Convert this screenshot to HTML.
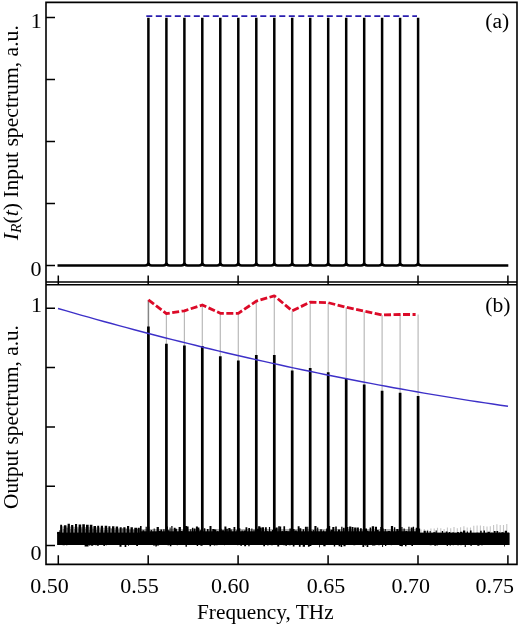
<!DOCTYPE html><html><head><meta charset="utf-8"><style>html,body{margin:0;padding:0;background:#fff}svg{display:block;will-change:transform}</style></head><body>
<svg width="520" height="625" viewBox="0 0 520 625">
<rect width="520" height="625" fill="#fff"/>
<path d="M57.5 265.5 L145.2 265.5 Q148.4 265.5 148.4 262.5 L148.4 17.8 L148.4 262.5 Q148.4 265.5 151.6 265.5 L163.2 265.5 Q166.4 265.5 166.4 262.5 L166.4 17.8 L166.4 262.5 Q166.4 265.5 169.6 265.5 L181.2 265.5 Q184.4 265.5 184.4 262.5 L184.4 17.8 L184.4 262.5 Q184.4 265.5 187.6 265.5 L199.1 265.5 Q202.3 265.5 202.3 262.5 L202.3 17.8 L202.3 262.5 Q202.3 265.5 205.5 265.5 L217.1 265.5 Q220.3 265.5 220.3 262.5 L220.3 17.8 L220.3 262.5 Q220.3 265.5 223.5 265.5 L235.1 265.5 Q238.3 265.5 238.3 262.5 L238.3 17.8 L238.3 262.5 Q238.3 265.5 241.5 265.5 L253.1 265.5 Q256.3 265.5 256.3 262.5 L256.3 17.8 L256.3 262.5 Q256.3 265.5 259.5 265.5 L271.1 265.5 Q274.3 265.5 274.3 262.5 L274.3 17.8 L274.3 262.5 Q274.3 265.5 277.5 265.5 L289.0 265.5 Q292.2 265.5 292.2 262.5 L292.2 17.8 L292.2 262.5 Q292.2 265.5 295.4 265.5 L307.0 265.5 Q310.2 265.5 310.2 262.5 L310.2 17.8 L310.2 262.5 Q310.2 265.5 313.4 265.5 L325.0 265.5 Q328.2 265.5 328.2 262.5 L328.2 17.8 L328.2 262.5 Q328.2 265.5 331.4 265.5 L343.0 265.5 Q346.2 265.5 346.2 262.5 L346.2 17.8 L346.2 262.5 Q346.2 265.5 349.4 265.5 L361.0 265.5 Q364.2 265.5 364.2 262.5 L364.2 17.8 L364.2 262.5 Q364.2 265.5 367.4 265.5 L378.9 265.5 Q382.1 265.5 382.1 262.5 L382.1 17.8 L382.1 262.5 Q382.1 265.5 385.3 265.5 L396.9 265.5 Q400.1 265.5 400.1 262.5 L400.1 17.8 L400.1 262.5 Q400.1 265.5 403.3 265.5 L414.9 265.5 Q418.1 265.5 418.1 262.5 L418.1 17.8 L418.1 262.5 Q418.1 265.5 421.3 265.5 L508.3 265.5" fill="none" stroke="#000" stroke-width="2.5" stroke-linejoin="bevel"/>
<line x1="146.3" y1="16.2" x2="417" y2="16.2" stroke="#2a1eb0" stroke-width="1.7" stroke-dasharray="6 3.5"/>
<path d="M60 526.2L100 527.6L140 529.2V534H60z" fill="#a8a8a8"/>
<path d="M59.0 530.3h2.2V545h-2.2zM62.7 528.9h2.0V545h-2.0zM66.4 527.9h2.0V545h-2.0zM70.1 528.9h1.5V545h-1.5zM73.8 529.0h1.9V545h-1.9zM77.5 528.5h1.3V545h-1.3zM81.2 528.4h1.5V545h-1.5zM84.9 528.7h1.4V545h-1.4zM88.6 529.8h1.6V545h-1.6zM92.3 529.1h2.0V545h-2.0zM96.0 529.8h1.7V545h-1.7zM99.7 529.5h2.1V545h-2.1zM103.4 530.3h2.0V545h-2.0zM107.1 530.1h1.2V545h-1.2zM110.8 528.9h1.5V545h-1.5zM114.5 529.7h2.0V545h-2.0zM118.2 529.5h1.3V545h-1.3zM121.9 528.6h1.3V545h-1.3zM125.6 528.8h2.0V545h-2.0zM129.3 529.7h1.8V545h-1.8zM133.0 529.8h2.0V545h-2.0zM136.7 528.8h1.2V545h-1.2z" fill="#666"/>
<path d="M140 529H420V534H140z" fill="#b0b0b0"/>
<rect x="140" y="531.3" width="280" height="2" fill="#000"/>
<path d="M421.0 529.5V533M424.3 529.0V533M427.6 529.7V533M430.9 528.4V533M434.2 528.5V533M437.5 527.7V533M440.8 528.3V533M444.1 529.0V533M447.4 527.5V533M450.7 528.3V533M454.0 526.9V533M457.3 528.2V533M460.6 527.2V533M463.9 526.3V533M467.2 527.4V533M470.5 527.4V533M473.8 525.7V533M477.1 525.5V533M480.4 525.6V533M483.7 525.9V533M487.0 526.6V533M490.3 526.2V533M493.6 525.0V533M496.9 524.2V533M500.2 525.1V533M503.5 524.9V533M506.8 524.1V533" stroke="#c4c4c4" stroke-width="1.1" fill="none"/>
<path d="M60.2 524.8h1.9V545h-1.9zM63.9 525.3h2.5V545h-2.5zM67.6 523.7h2.3V545h-2.3zM71.1 525.0h2.2V545h-2.2zM75.0 524.0h2.1V545h-2.1zM78.6 524.4h2.6V545h-2.6zM82.3 524.2h2.6V545h-2.6zM86.0 524.8h2.7V545h-2.7zM89.8 524.7h2.6V545h-2.6zM93.5 526.0h2.5V545h-2.5zM97.2 525.8h2.0V545h-2.0zM100.8 525.7h2.2V545h-2.2zM104.7 525.7h2.5V545h-2.5zM108.4 526.2h2.0V545h-2.0zM112.0 526.2h2.4V545h-2.4zM115.7 526.4h2.4V545h-2.4zM119.7 527.2h2.0V545h-2.0zM123.3 527.2h2.2V545h-2.2zM127.0 526.1h2.2V545h-2.2zM130.5 527.2h2.4V545h-2.4zM134.3 527.7h2.7V545h-2.7zM137.7 527.7h2.1V545h-2.1zM140.0 526.1h1.6V545h-1.6zM142.5 530.3h1.8V545h-1.8zM145.6 526.8h1.2V545h-1.2zM148.2 526.8h1.2V545h-1.2zM150.7 530.0h1.2V545h-1.2zM153.7 528.4h1.0V545h-1.0zM156.6 527.0h2.3V545h-2.3zM158.5 530.9h2.1V545h-2.1zM160.4 529.6h1.6V545h-1.6zM163.3 529.2h1.2V545h-1.2zM166.2 526.5h1.7V545h-1.7zM167.9 530.2h1.4V545h-1.4zM169.6 527.5h1.0V545h-1.0zM171.3 526.0h1.2V545h-1.2zM173.7 527.8h1.9V545h-1.9zM175.5 528.8h1.4V545h-1.4zM178.6 526.9h2.3V545h-2.3zM180.2 531.0h2.1V545h-2.1zM182.6 530.6h2.0V545h-2.0zM185.1 526.0h2.1V545h-2.1zM187.2 526.4h1.4V545h-1.4zM190.2 529.3h1.0V545h-1.0zM191.9 527.8h1.5V545h-1.5zM193.8 528.4h1.7V545h-1.7zM195.9 526.5h2.0V545h-2.0zM197.9 527.6h1.5V545h-1.5zM199.8 530.3h2.2V545h-2.2zM201.6 526.8h1.5V545h-1.5zM203.9 528.2h1.4V545h-1.4zM207.0 529.1h1.5V545h-1.5zM209.5 526.1h2.0V545h-2.0zM212.3 528.9h2.2V545h-2.2zM214.4 529.5h1.9V545h-1.9zM217.0 531.3h1.2V545h-1.2zM220.1 528.8h1.6V545h-1.6zM221.8 530.2h2.3V545h-2.3zM224.4 526.6h2.0V545h-2.0zM226.5 528.8h1.3V545h-1.3zM228.3 528.0h2.2V545h-2.2zM230.6 529.4h1.1V545h-1.1zM233.5 526.9h1.8V545h-1.8zM236.3 530.3h1.2V545h-1.2zM238.9 528.3h1.4V545h-1.4zM241.5 530.4h1.3V545h-1.3zM243.7 530.4h2.2V545h-2.2zM245.5 527.2h1.8V545h-1.8zM248.3 528.0h1.7V545h-1.7zM251.3 528.6h1.1V545h-1.1zM253.5 529.8h1.0V545h-1.0zM256.0 528.8h2.2V545h-2.2zM258.1 526.3h2.3V545h-2.3zM259.8 527.5h2.0V545h-2.0zM262.0 527.3h2.1V545h-2.1zM265.0 527.3h1.8V545h-1.8zM266.7 531.3h1.3V545h-1.3zM268.9 527.1h1.2V545h-1.2zM272.0 530.0h1.2V545h-1.2zM273.8 528.4h2.2V545h-2.2zM275.5 527.4h2.2V545h-2.2zM278.2 526.2h1.7V545h-1.7zM280.0 526.5h1.2V545h-1.2zM281.7 531.1h1.1V545h-1.1zM283.4 526.3h1.7V545h-1.7zM285.4 531.1h2.0V545h-2.0zM287.7 531.5h1.0V545h-1.0zM289.4 528.5h1.5V545h-1.5zM292.4 528.9h2.1V545h-2.1zM294.7 530.6h2.1V545h-2.1zM297.7 526.3h1.9V545h-1.9zM299.7 528.3h1.6V545h-1.6zM302.7 529.2h1.3V545h-1.3zM304.9 526.7h2.0V545h-2.0zM307.2 526.7h1.1V545h-1.1zM310.3 530.7h1.4V545h-1.4zM312.8 530.1h1.1V545h-1.1zM314.4 526.0h2.1V545h-2.1zM317.1 527.4h1.2V545h-1.2zM320.2 529.2h1.6V545h-1.6zM323.0 530.4h1.1V545h-1.1zM326.1 528.5h1.2V545h-1.2zM328.2 526.1h2.0V545h-2.0zM330.6 529.7h2.0V545h-2.0zM332.3 526.9h2.1V545h-2.1zM335.2 526.5h1.6V545h-1.6zM338.0 529.5h2.1V545h-2.1zM341.2 526.8h1.3V545h-1.3zM343.0 527.7h1.7V545h-1.7zM345.2 527.0h1.6V545h-1.6zM346.8 527.0h1.6V545h-1.6zM349.1 526.6h2.2V545h-2.2zM351.7 527.1h1.8V545h-1.8zM354.1 527.4h2.3V545h-2.3zM356.8 527.5h2.1V545h-2.1zM360.0 528.2h1.8V545h-1.8zM362.7 529.5h1.6V545h-1.6zM364.8 528.5h2.2V545h-2.2zM366.8 530.8h1.6V545h-1.6zM369.6 527.4h1.6V545h-1.6zM371.8 526.3h2.3V545h-2.3zM374.9 526.8h2.1V545h-2.1zM377.0 530.1h1.7V545h-1.7zM380.2 527.1h2.3V545h-2.3zM382.1 528.6h1.6V545h-1.6zM384.7 529.1h1.1V545h-1.1zM387.8 531.1h2.2V545h-2.2zM390.9 526.1h2.2V545h-2.2zM393.9 527.3h1.4V545h-1.4zM396.3 528.9h2.2V545h-2.2zM398.4 530.8h1.5V545h-1.5zM401.3 526.9h1.2V545h-1.2zM403.5 528.6h1.3V545h-1.3zM405.5 531.0h1.7V545h-1.7zM408.4 526.7h1.1V545h-1.1zM410.7 527.6h1.8V545h-1.8zM412.7 526.7h1.4V545h-1.4zM415.7 527.7h1.9V545h-1.9zM418.4 528.4h1.7V545h-1.7zM420.0 533.0h1.7V545h-1.7zM423.6 530.8h2.2V545h-2.2zM426.7 530.7h1.5V545h-1.5zM429.6 531.1h1.1V545h-1.1zM433.3 532.2h2.0V545h-2.0zM435.6 530.6h1.2V545h-1.2zM438.0 532.9h1.1V545h-1.1zM441.8 531.1h1.3V545h-1.3zM445.7 531.4h1.8V545h-1.8zM448.8 532.0h1.4V545h-1.4zM452.3 532.6h1.7V545h-1.7zM454.7 533.0h1.8V545h-1.8zM457.1 532.1h1.7V545h-1.7zM460.0 531.7h2.4V545h-2.4zM463.0 530.5h2.3V545h-2.3zM466.8 531.4h1.2V545h-1.2zM469.9 530.6h1.7V545h-1.7zM472.6 532.9h1.5V545h-1.5zM476.5 532.8h1.8V545h-1.8zM480.2 530.8h1.5V545h-1.5zM483.5 530.5h1.5V545h-1.5zM487.5 531.8h2.4V545h-2.4zM490.8 532.8h1.9V545h-1.9zM493.8 531.1h1.8V545h-1.8zM496.5 531.1h1.7V545h-1.7zM498.7 532.4h1.5V545h-1.5zM501.4 532.3h2.2V545h-2.2zM504.8 530.7h2.2V545h-2.2zM507.3 532.8h2.3V545h-2.3zM58.0 544h2.0V545.0h-2.0zM59.9 544h1.0V545.1h-1.0zM62.6 544h2.2V545.2h-2.2zM64.4 544h1.2V545.0h-1.2zM66.0 544h1.4V545.3h-1.4zM68.3 544h1.4V545.0h-1.4zM71.8 544h1.4V545.0h-1.4zM74.7 544h1.1V545.1h-1.1zM76.6 544h2.0V545.0h-2.0zM81.0 544h1.4V545.0h-1.4zM84.6 544h1.9V546.5h-1.9zM86.5 544h2.0V546.4h-2.0zM88.9 544h1.5V545.5h-1.5zM91.1 544h2.1V545.8h-2.1zM95.2 544h1.5V545.3h-1.5zM97.3 544h1.3V545.9h-1.3zM101.7 544h1.0V545.0h-1.0zM103.4 544h1.5V546.1h-1.5zM105.6 544h1.5V545.3h-1.5zM109.6 544h1.0V545.0h-1.0zM112.6 544h1.3V545.1h-1.3zM116.4 544h1.8V545.0h-1.8zM119.5 544h2.0V546.7h-2.0zM121.0 544h2.0V545.0h-2.0zM124.6 544h1.7V546.9h-1.7zM128.0 544h0.9V545.7h-0.9zM130.3 544h2.0V545.0h-2.0zM132.7 544h1.8V545.0h-1.8zM136.2 544h1.8V545.9h-1.8zM140.3 544h1.4V545.0h-1.4zM142.6 544h1.4V545.0h-1.4zM146.2 544h0.9V545.0h-0.9zM150.5 544h2.0V545.0h-2.0zM153.0 544h2.0V545.5h-2.0zM155.3 544h1.5V546.4h-1.5zM156.8 544h2.3V545.4h-2.3zM158.9 544h2.0V545.0h-2.0zM161.6 544h1.7V545.0h-1.7zM165.7 544h1.8V545.0h-1.8zM167.7 544h0.9V545.4h-0.9zM169.8 544h1.6V546.2h-1.6zM173.9 544h1.0V545.1h-1.0zM176.7 544h1.4V545.2h-1.4zM179.5 544h1.9V545.1h-1.9zM182.1 544h1.4V545.0h-1.4zM185.5 544h1.4V546.7h-1.4zM189.4 544h1.1V545.0h-1.1zM193.3 544h1.6V545.0h-1.6zM196.7 544h1.4V546.1h-1.4zM200.4 544h2.2V545.8h-2.2zM204.6 544h1.2V545.1h-1.2zM206.3 544h2.1V545.0h-2.1zM209.5 544h1.6V546.2h-1.6zM212.1 544h1.0V545.1h-1.0zM213.8 544h1.3V545.6h-1.3zM215.4 544h2.3V545.3h-2.3zM217.8 544h2.1V545.0h-2.1zM220.3 544h2.2V545.0h-2.2zM224.0 544h0.9V545.3h-0.9zM227.5 544h1.1V545.1h-1.1zM230.6 544h1.7V545.0h-1.7zM233.4 544h2.3V545.1h-2.3zM237.2 544h1.1V545.2h-1.1zM240.3 544h1.7V545.8h-1.7zM244.2 544h1.9V546.2h-1.9zM248.3 544h1.3V546.2h-1.3zM251.4 544h1.2V545.0h-1.2zM255.2 544h1.8V545.0h-1.8zM258.4 544h0.9V545.1h-0.9zM261.7 544h1.8V545.0h-1.8zM263.3 544h1.7V546.2h-1.7zM267.2 544h1.3V545.4h-1.3zM270.8 544h2.1V545.3h-2.1zM275.0 544h1.3V545.0h-1.3zM277.3 544h1.9V546.5h-1.9zM280.3 544h1.8V545.0h-1.8zM283.3 544h1.5V545.2h-1.5zM285.3 544h1.7V545.7h-1.7zM288.8 544h1.9V545.2h-1.9zM292.8 544h1.7V546.5h-1.7zM295.5 544h1.9V545.0h-1.9zM297.3 544h2.2V545.1h-2.2zM298.9 544h1.7V546.8h-1.7zM302.7 544h2.3V546.8h-2.3zM305.6 544h1.2V545.0h-1.2zM307.9 544h1.7V546.7h-1.7zM309.4 544h2.0V546.0h-2.0zM313.0 544h1.0V545.0h-1.0zM316.7 544h1.8V545.1h-1.8zM319.2 544h0.8V547.2h-0.8zM323.3 544h2.3V546.2h-2.3zM326.1 544h2.1V545.0h-2.1zM329.6 544h1.2V545.1h-1.2zM333.8 544h1.4V546.6h-1.4zM337.1 544h1.2V545.0h-1.2zM338.6 544h1.7V546.3h-1.7zM340.7 544h1.5V547.1h-1.5zM343.4 544h2.2V546.2h-2.2zM346.4 544h1.8V545.0h-1.8zM349.5 544h1.9V545.0h-1.9zM351.1 544h0.8V545.0h-0.8zM353.3 544h2.0V545.2h-2.0zM356.4 544h1.3V545.1h-1.3zM359.6 544h1.9V545.0h-1.9zM362.4 544h1.8V546.9h-1.8zM364.7 544h1.4V545.4h-1.4zM366.6 544h1.7V547.0h-1.7zM369.0 544h1.5V545.0h-1.5zM372.0 544h2.3V545.4h-2.3zM374.1 544h1.3V545.5h-1.3zM378.2 544h1.5V545.3h-1.5zM382.1 544h1.0V546.9h-1.0zM385.0 544h1.3V546.0h-1.3zM387.3 544h1.0V545.0h-1.0zM390.8 544h1.0V545.2h-1.0zM393.0 544h1.6V545.0h-1.6zM396.9 544h2.2V545.1h-2.2zM399.4 544h1.7V545.9h-1.7zM401.1 544h1.8V546.2h-1.8zM405.0 544h1.5V546.2h-1.5zM408.1 544h1.1V545.1h-1.1zM411.4 544h1.6V546.1h-1.6zM415.0 544h1.1V545.1h-1.1zM418.9 544h1.5V545.0h-1.5zM423.2 544h1.5V545.1h-1.5zM426.2 544h1.3V545.0h-1.3zM429.7 544h2.0V545.2h-2.0zM431.7 544h1.5V545.1h-1.5zM434.5 544h1.2V546.0h-1.2zM436.6 544h0.9V545.8h-0.9zM440.3 544h1.2V545.0h-1.2zM443.6 544h2.2V545.0h-2.2zM446.7 544h1.2V545.9h-1.2zM449.6 544h1.4V545.6h-1.4zM452.7 544h1.1V545.2h-1.1zM457.1 544h2.0V545.3h-2.0zM460.5 544h1.0V545.2h-1.0zM464.7 544h1.1V547.1h-1.1zM468.8 544h1.8V545.1h-1.8zM470.5 544h1.2V545.9h-1.2zM473.3 544h2.0V545.0h-2.0zM477.3 544h2.1V545.8h-2.1zM479.4 544h1.1V545.0h-1.1zM481.0 544h1.9V545.3h-1.9zM484.8 544h1.2V545.1h-1.2zM489.0 544h2.3V545.0h-2.3zM492.8 544h1.6V545.0h-1.6zM496.2 544h1.2V545.1h-1.2zM500.6 544h1.9V545.0h-1.9zM504.1 544h0.8V546.5h-0.8zM507.4 544h1.7V545.0h-1.7z" fill="#000"/>
<rect x="57.1" y="532.6" width="451.8" height="12.4" fill="#000"/>
<rect x="57.1" y="531.9" width="3.2" height="2" fill="#000"/>
<path d="M148.4 299.9V533" stroke="#858585" stroke-width="1.5" fill="none"/>
<path d="M166.4 313.6V533M184.4 310.8V533M202.3 305.0V533M220.3 313.3V533M238.3 313.3V533M256.3 301.2V533M274.3 295.8V533M292.2 310.8V533M310.2 302.2V533M328.2 302.7V533M346.2 307.3V533M364.2 311.2V533M382.1 315.0V533M400.1 314.5V533M418.1 314.5V533" stroke="#bababa" stroke-width="1.2" fill="none"/>
<path d="M148.4 326.5V535M166.4 343.7V535M184.4 345.4V535M202.3 345.9V535M220.3 356.2V535M238.3 360.6V535M256.3 354.9V535M274.3 354.9V535M292.2 370.6V535M310.2 367.9V535M328.2 372.3V535M346.2 378.6V535M364.2 384.6V535M382.1 390.7V535M400.1 392.7V535M418.1 396V535" stroke="#000" stroke-width="2.7" fill="none"/>
<path d="M58.0 308.5 L65.6 310.7 L73.3 312.9 L80.9 315.1 L88.5 317.2 L96.1 319.3 L103.8 321.5 L111.4 323.5 L119.0 325.6 L126.6 327.7 L134.3 329.7 L141.9 331.7 L149.5 333.7 L157.2 335.7 L164.8 337.7 L172.4 339.6 L180.0 341.5 L187.7 343.4 L195.3 345.3 L202.9 347.2 L210.5 349.0 L218.2 350.9 L225.8 352.7 L233.4 354.5 L241.1 356.2 L248.7 358.0 L256.3 359.7 L263.9 361.4 L271.6 363.1 L279.2 364.8 L286.8 366.5 L294.4 368.1 L302.1 369.7 L309.7 371.3 L317.3 372.9 L324.9 374.5 L332.6 376.0 L340.2 377.5 L347.8 379.0 L355.5 380.5 L363.1 382.0 L370.7 383.4 L378.3 384.9 L386.0 386.3 L393.6 387.7 L401.2 389.0 L408.8 390.4 L416.5 391.7 L424.1 393.1 L431.7 394.4 L439.4 395.6 L447.0 396.9 L454.6 398.1 L462.2 399.4 L469.9 400.6 L477.5 401.7 L485.1 402.9 L492.7 404.0 L500.4 405.2 L508.0 406.3" stroke="#3d30c8" stroke-width="1.4" fill="none"/>
<path d="M148.4 299.9 L166.4 313.6 L184.4 310.8 L202.3 305.0 L220.3 313.3 L238.3 313.3 L256.3 301.2 L274.3 295.8 L292.2 310.8 L310.2 302.2 L328.2 302.7 L346.2 307.3 L364.2 311.2 L382.1 315.0 L400.1 314.5 L415.6 314.5" stroke="#dc0a28" stroke-width="2.8" fill="none" stroke-dasharray="7 2.5" stroke-linejoin="round"/>
<g fill="none" stroke="#000" stroke-width="1.6">
<path d="M46 1.6V565.2M517 1.6V565.2M45.2 2.4H517.8M45.2 282H517.8M45.2 284.8H517.8M45.2 564.4H517.8"/>
</g>
<path d="M46 17.5H55M46 308.3H55M46 79.5H55M46 367.6H55M46 141.5H55M46 426.9H55M46 203.5H55M46 486.2H55M46 265.5H55M46 545.5H55M58.3 275.5V284.8M58.3 555.2V564.4M148.2 275.5V284.8M148.2 555.2V564.4M238.1 275.5V284.8M238.1 555.2V564.4M328.1 275.5V284.8M328.1 555.2V564.4M418.0 275.5V284.8M418.0 555.2V564.4M507.9 275.5V284.8M507.9 555.2V564.4" stroke="#000" stroke-width="1.5" fill="none"/>
<g font-family="Liberation Serif" fill="#000" font-size="22">
<text x="30.8" y="27.5">1</text>
<text x="30.5" y="275.7">0</text>
<text x="31" y="311.7">1</text>
<text x="30.5" y="559.5">0</text>
<text x="485.3" y="27.6" font-size="21.6">(a)</text>
<text x="485.3" y="311.6" font-size="21.6">(b)</text>
<text x="30.3" y="592.8">0.50</text>
<text x="120.3" y="592.8">0.55</text>
<text x="211.0" y="592.8">0.60</text>
<text x="306.7" y="592.8">0.65</text>
<text x="391.5" y="592.8">0.70</text>
<text x="475.6" y="592.8">0.75</text>
</g>
<g font-family="Liberation Serif" fill="#000" font-size="21.3">
<text x="197" y="618.7">Frequency, THz</text>
<text transform="translate(17.8 509) rotate(-90)">Output spectrum, a.u.</text>
<text font-size="21.65" transform="translate(17.8 240.2) rotate(-90)"><tspan font-style="italic">I</tspan><tspan font-style="italic" font-size="15.5" dy="3">R</tspan><tspan dy="-3">(</tspan><tspan font-style="italic">t</tspan><tspan>) Input spectrum, a.u.</tspan></text>
</g>
</svg></body></html>
